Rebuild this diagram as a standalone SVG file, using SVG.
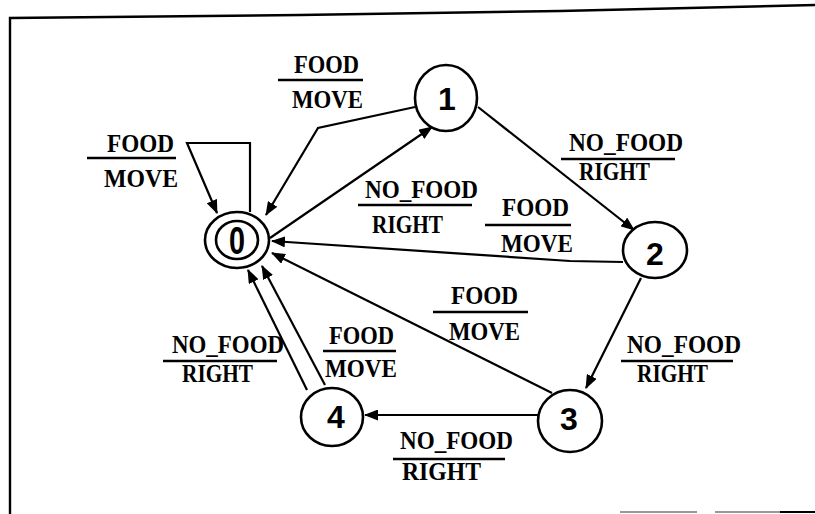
<svg xmlns="http://www.w3.org/2000/svg" width="815" height="514" viewBox="0 0 815 514">
<style>
  .node { fill: #fff; stroke: #000; stroke-width: 2.6; }
  .num { font-family: "Liberation Sans", Arial, sans-serif; font-weight: bold; font-size: 32px; fill: #000; text-anchor: middle; }
  .edge { fill: none; stroke: #000; stroke-width: 2.2; marker-end: url(#ah); }
  .lbl { font-family: "Liberation Serif", "Times New Roman", serif; font-weight: bold; font-size: 25px; fill: #000; }
  .bar { stroke: #000; stroke-width: 2.6; }
  .frame { fill: none; stroke: #000; stroke-width: 2.4; }
</style>
<defs>
  <marker id="ah" markerWidth="14" markerHeight="11" refX="13" refY="5.5" orient="auto" markerUnits="userSpaceOnUse">
    <path d="M0,0 L14,5.5 L0,11 z" fill="#000"/>
  </marker>
</defs>
<rect width="815" height="514" fill="#fff"/>
<g id="frame">
  <polyline class="frame" points="10,514 10,18 300,15 560,11 815,5"/>
  <line x1="620" y1="512" x2="697" y2="512" stroke="#777" stroke-width="1.5"/>
  <line x1="715" y1="512" x2="780" y2="512" stroke="#777" stroke-width="1.5"/>
  <line x1="780" y1="512" x2="815" y2="512" stroke="#000" stroke-width="2"/>
</g>
<g id="connectors">
  <path id="e00" class="edge" d="M250,212 L250,143 L187,143 L217,213"/>
  <path id="e10" class="edge" d="M415,107 L318,128 L266,215"/>
  <path id="e01" class="edge" d="M270,238 L432,127"/>
  <path id="e12" class="edge" d="M478,107 L634,230"/>
  <path id="e20" class="edge" d="M623,262 L570,261 L272,241"/>
  <path id="e23" class="edge" d="M641,278 L586,388"/>
  <path id="e30" class="edge" d="M552,393 L272,253"/>
  <path id="e34" class="edge" d="M538,415 L365,415"/>
  <path id="e40a" class="edge" d="M307,390 L248,270"/>
  <path id="e40b" class="edge" d="M325,385 L262,266"/>
</g>
<g id="labels">
  <g id="l00">
    <text class="lbl" x="107" y="152" textLength="67" lengthAdjust="spacingAndGlyphs">FOOD</text>
    <line class="bar" x1="87" y1="158" x2="176" y2="158"/>
    <text class="lbl" x="104" y="187" textLength="74" lengthAdjust="spacingAndGlyphs">MOVE</text>
  </g>
  <g id="l10">
    <text class="lbl" x="294" y="73" textLength="65" lengthAdjust="spacingAndGlyphs">FOOD</text>
    <line class="bar" x1="278" y1="80" x2="363" y2="80"/>
    <text class="lbl" x="292" y="108" textLength="71" lengthAdjust="spacingAndGlyphs">MOVE</text>
  </g>
  <g id="l01">
    <text class="lbl" x="365" y="198" textLength="113" lengthAdjust="spacingAndGlyphs">NO_FOOD</text>
    <line class="bar" x1="358" y1="205" x2="472" y2="205"/>
    <text class="lbl" x="372" y="233" textLength="71" lengthAdjust="spacingAndGlyphs">RIGHT</text>
  </g>
  <g id="l12">
    <text class="lbl" x="569" y="151" textLength="114" lengthAdjust="spacingAndGlyphs">NO_FOOD</text>
    <line class="bar" x1="561" y1="159" x2="675" y2="159"/>
    <text class="lbl" x="579" y="180" textLength="71" lengthAdjust="spacingAndGlyphs">RIGHT</text>
  </g>
  <g id="l20">
    <text class="lbl" x="502" y="216" textLength="67" lengthAdjust="spacingAndGlyphs">FOOD</text>
    <line class="bar" x1="485" y1="225" x2="571" y2="225"/>
    <text class="lbl" x="501" y="252" textLength="72" lengthAdjust="spacingAndGlyphs">MOVE</text>
  </g>
  <g id="l30">
    <text class="lbl" x="451" y="304" textLength="67" lengthAdjust="spacingAndGlyphs">FOOD</text>
    <line class="bar" x1="433" y1="312" x2="528" y2="312"/>
    <text class="lbl" x="449" y="340" textLength="71" lengthAdjust="spacingAndGlyphs">MOVE</text>
  </g>
  <g id="l40b">
    <text class="lbl" x="329" y="344" textLength="65" lengthAdjust="spacingAndGlyphs">FOOD</text>
    <line class="bar" x1="323" y1="351" x2="396" y2="351"/>
    <text class="lbl" x="325" y="377" textLength="72" lengthAdjust="spacingAndGlyphs">MOVE</text>
  </g>
  <g id="l40a">
    <text class="lbl" x="172" y="353" textLength="112" lengthAdjust="spacingAndGlyphs">NO_FOOD</text>
    <line class="bar" x1="163" y1="361" x2="277" y2="361"/>
    <text class="lbl" x="182" y="382" textLength="71" lengthAdjust="spacingAndGlyphs">RIGHT</text>
  </g>
  <g id="l23">
    <text class="lbl" x="627" y="353" textLength="114" lengthAdjust="spacingAndGlyphs">NO_FOOD</text>
    <line class="bar" x1="621" y1="361" x2="733" y2="361"/>
    <text class="lbl" x="637" y="382" textLength="71" lengthAdjust="spacingAndGlyphs">RIGHT</text>
  </g>
  <g id="l34">
    <text class="lbl" x="400" y="449" textLength="113" lengthAdjust="spacingAndGlyphs">NO_FOOD</text>
    <line class="bar" x1="393" y1="459" x2="505" y2="459"/>
    <text class="lbl" x="402" y="480" textLength="79" lengthAdjust="spacingAndGlyphs">RIGHT</text>
  </g>
</g>
<g id="node0">
  <ellipse class="node" cx="237" cy="240" rx="32" ry="28"/>
  <ellipse class="node" cx="237" cy="240" rx="21" ry="19"/>
  <text class="num" x="0" y="0" transform="translate(237,254) scale(0.9,1.2)">0</text>
</g>
<g id="node1">
  <ellipse class="node" cx="446" cy="98" rx="31" ry="33"/>
  <text class="num" x="447" y="110">1</text>
</g>
<g id="node2">
  <ellipse class="node" cx="655" cy="250" rx="32" ry="28"/>
  <text class="num" x="655" y="265">2</text>
</g>
<g id="node3">
  <ellipse class="node" cx="570" cy="421" rx="32" ry="31"/>
  <text class="num" x="569" y="430">3</text>
</g>
<g id="node4">
  <ellipse class="node" cx="332" cy="417" rx="31" ry="29"/>
  <text class="num" x="336" y="428">4</text>
</g>
</svg>
